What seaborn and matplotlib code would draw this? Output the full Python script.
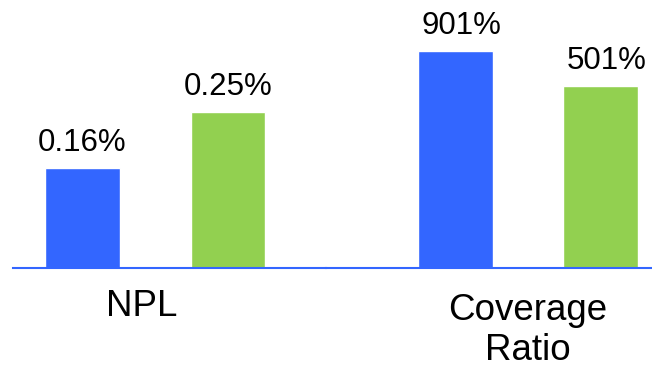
import numpy as np
import pandas as pd
import matplotlib
matplotlib.use("Agg")
import matplotlib.pyplot as plt
import seaborn as sns

# Two metrics, each compared across two series
series = ["Bank", "Peers"]
npl_values = [0.16, 0.25]          # NPL, %
coverage_values = [901, 501]       # Coverage ratio, %
group_labels = ["NPL", "Coverage\nRatio"]
colors = ["#3366FF", "#92D050"]

sns.set_theme(style="white")
plt.rcParams["font.family"] = ["Liberation Sans", "DejaVu Sans"]

VALUE_FS = 22.5
GROUP_FS = 26.5
LABEL_PAD = 7

fig = plt.figure(figsize=(6.52, 3.65), dpi=100)
W, H = 652, 365
base_y = 268  # baseline height in pixels from top
ax1 = fig.add_axes([13 / W, (H - base_y) / H, (326 - 13) / W, base_y / H])
ax2 = fig.add_axes([326 / W, (H - base_y) / H, (W - 326) / W, base_y / H])

# The ratio panel uses a compressed power scale so both panels share one height
ax2.set_yscale("function", functions=(lambda v: np.power(np.clip(v, 0, None), 0.3),
                                      lambda v: np.power(np.clip(v, 0, None), 1 / 0.3)))

# axis, values, x-limits, y-limits, group label x, group label, value label x shift (pt)
panels = [
    (ax1, npl_values, (-0.478, 1.674), (0, 0.4295), 0.404, group_labels[0], 0),
    (ax2, coverage_values, (-0.893, 1.355), (0, 1824), 0.5, group_labels[1], 4.5),
]

for ax, vals, xlim, ylim, label_x, label, shift in panels:
    df = pd.DataFrame({"series": series, "value": vals})
    sns.barplot(data=df, x="series", y="value", hue="series", palette=colors,
                width=0.515, legend=False, ax=ax, saturation=1)
    for cont in ax.containers:
        anns = ax.bar_label(cont, labels=[f"{b.get_height():g}%" for b in cont],
                            padding=LABEL_PAD, fontsize=VALUE_FS, color="black")
        for a in anns:
            a.xyann = (shift, LABEL_PAD)
    ax.set_xlim(*xlim)
    ax.set_ylim(*ylim)
    ax.set_xlabel("")
    ax.set_ylabel("")
    ax.set_xticks([])
    ax.set_yticks([])
    ax.minorticks_off()
    for side in ["top", "left", "right"]:
        ax.spines[side].set_visible(False)
    ax.spines["bottom"].set_color("#3366FF")
    ax.spines["bottom"].set_linewidth(1.5)
    ax.set_facecolor("none")
    # baseline alignment anchors the last line, so lift multi-line labels
    n_lines = label.count("\n") + 1
    dy = -34.5 - (n_lines - 1) * 1.2 * GROUP_FS
    ax.annotate(label, xy=(label_x, 0), xycoords=("data", "axes fraction"),
                xytext=(0, dy), textcoords="offset points",
                ha="center", va="baseline", fontsize=GROUP_FS, color="black",
                linespacing=1.2, annotation_clip=False)

fig.savefig("out.png", dpi=100)
